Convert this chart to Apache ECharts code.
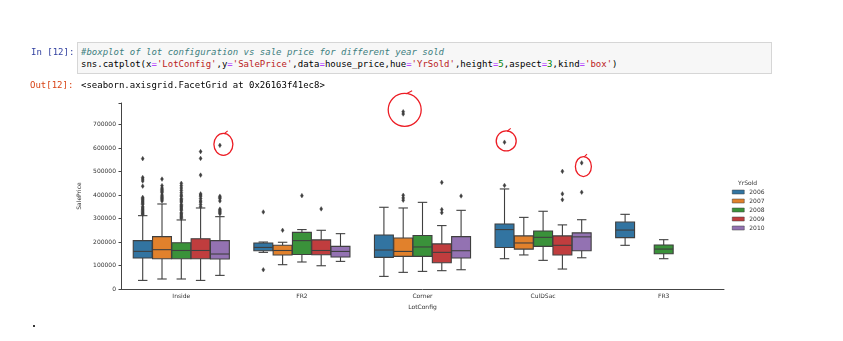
<!DOCTYPE html>
<html><head><meta charset="utf-8">
<script src="https://cdn.jsdelivr.net/npm/echarts@6/dist/echarts.min.js"></script>
<style>
html,body{margin:0;padding:0;background:#fff;width:843px;height:341px;overflow:hidden;}
#chart{position:absolute;left:0;top:0;width:843px;height:341px;}
.nb{position:absolute;font-family:'DejaVu Sans Mono','Liberation Mono',monospace;font-size:9px;line-height:12.3px;white-space:pre;color:#000;}
.cm{color:#408080;font-style:italic}.st{color:#ba2121}.op{color:#aa22ff}.nu{color:#008000}
</style></head><body>
<div id="chart"></div>
<div class="nb" style="left:31px;top:45.5px;color:#303F9F">In [12]:</div>
<div style="position:absolute;left:77px;top:42px;width:693px;height:30px;background:#f7f7f7;border:1px solid #d6d6d6;"></div>
<div class="nb" style="left:81px;top:45.5px;"><span class="cm">#boxplot of lot configuration vs sale price for different year sold</span>
sns.catplot(x<span class="op">=</span><span class="st">'LotConfig'</span>,y<span class="op">=</span><span class="st">'SalePrice'</span>,data<span class="op">=</span>house_price,hue<span class="op">=</span><span class="st">'YrSold'</span>,height<span class="op">=</span><span class="nu">5</span>,aspect<span class="op">=</span><span class="nu">3</span>,kind<span class="op">=</span><span class="st">'box'</span>)</div>
<div class="nb" style="left:30px;top:79px;color:#D84315">Out[12]:</div>
<div class="nb" style="left:81px;top:79px;">&lt;seaborn.axisgrid.FacetGrid at 0x26163f41ec8&gt;</div>
<div class="nb" style="left:31px;top:318px;font-size:10px;font-weight:bold">.</div>
<script>
// ---- data ----
const categories = ['Inside', 'FR2', 'Corner', 'CulDSac', 'FR3'];
const years = ['2006', '2007', '2008', '2009', '2010'];
const yTicks = [0, 100000, 200000, 300000, 400000, 500000, 600000, 700000];
// [whiskerLow, Q1, median, Q3, whiskerHigh] for each category (null = no data)
const box2006 = [[36600,132000,160200,205800,312300],[156000,163000,177000,196000,200000],[53700,134600,166000,230000,348000],[129000,177000,253000,277000,426000],[186000,218600,251000,285000,318000]];
const box2007 = [[42600,129000,167500,222900,362000],[103500,145000,164000,186000,199000],[70900,139000,160000,217000,345000],[145000,170000,196000,226000,305000],null];
const box2008 = [[42600,129000,164000,197000,294000],[115000,147000,206000,241000,253000],[75000,139000,179000,228000,369000],[122000,181500,220000,247000,331000],[129000,150000,170000,187500,210000]];
const box2009 = [[36600,129000,164000,214000,345000],[99000,146000,164000,209000,250000],[78000,112000,156000,192000,270000],[85000,145000,186000,226000,273000],null];
const box2010 = [[58000,128000,149000,205800,308000],[117600,136000,160000,181500,235600],[82000,132000,163000,223000,335000],[133000,163000,222000,239000,295000],null];
// outliers for each category
const out2006 = [[555000,475000,468000,460000,438000,390000,385000,380000,375000,370000,365000,360000,350000,345000,340000,335000,330000,325000,320000,318000],[328000,82000],[],[625000,441000],[]];
const out2007 = [[468000,440000,430000,425000,420000,415000,410000,400000,395000,390000,385000,380000,375000],[250000],[755000,745000,399000,388000,378000],[],[]];
const out2008 = [[450000,440000,430000,420000,410000,400000,395000,385000,380000,375000,370000,360000,355000,350000,345000,340000,335000,325000,320000,315000,310000,305000,300000],[397500],[],[],[]];
const out2009 = [[585000,556000,485000,405000,400000,395000,385000,375000,370000,360000,350000],[341000],[454000,338000,325000],[501000,405000,380000],[]];
const out2010 = [[611657,395000,390000,385000,375000,340000,335000,330000,325000,320000],[],[396000],[537000,412000],[]];
// highlighted (circled) outliers: [categoryIndex, yearIndex, value]
const circled = [[0,4,611657],[2,1,750000],[3,0,625000],[3,4,537000]];

// ---- styling ----
const boxes = [box2006, box2007, box2008, box2009, box2010];
const outs = [out2006, out2007, out2008, out2009, out2010];
const colors = ['#3274a1','#e1812c','#3a923a','#c03d3e','#9372b2'];
const gray = '#3f3f3f';
const HUE_OFF = [-0.32,-0.16,0,0.16,0.32];
const FONT = 'DejaVu Sans';

const chart = echarts.init(document.getElementById('chart'));

function boxRenderer(h){
  return function(params, api){
    const cat = api.value(0);
    const band = api.size([1,0])[0];
    const cx = api.coord([cat, 0])[0] + HUE_OFF[h]*band;
    const half = band*0.16*0.98/2;
    const capHalf = half/2;
    const yLo = api.coord([cat, api.value(1)])[1];
    const yQ1 = api.coord([cat, api.value(2)])[1];
    const yMed = api.coord([cat, api.value(3)])[1];
    const yQ3 = api.coord([cat, api.value(4)])[1];
    const yHi = api.coord([cat, api.value(5)])[1];
    const ls = {stroke: gray, lineWidth: 1.1};
    return {type:'group', children:[
      {type:'line', shape:{x1:cx,y1:yQ1,x2:cx,y2:yLo}, style:ls},
      {type:'line', shape:{x1:cx,y1:yQ3,x2:cx,y2:yHi}, style:ls},
      {type:'line', shape:{x1:cx-capHalf,y1:yLo,x2:cx+capHalf,y2:yLo}, style:ls},
      {type:'line', shape:{x1:cx-capHalf,y1:yHi,x2:cx+capHalf,y2:yHi}, style:ls},
      {type:'rect', shape:{x:cx-half,y:yQ3,width:2*half,height:yQ1-yQ3}, style:{fill:colors[h], stroke:gray, lineWidth:1.1}},
      {type:'line', shape:{x1:cx-half,y1:yMed,x2:cx+half,y2:yMed}, style:ls}
    ]};
  };
}
function outRenderer(h){
  return function(params, api){
    const cat = api.value(0);
    const band = api.size([1,0])[0];
    const p = api.coord([cat, api.value(1)]);
    const cx = p[0] + HUE_OFF[h]*band, cy = p[1];
    const a = 2.3, b = 1.5;
    return {type:'polygon', shape:{points:[[cx,cy-a],[cx+b,cy],[cx,cy+a],[cx-b,cy]]}, style:{fill:gray, stroke:gray, lineWidth:0.4}};
  };
}

const series = [];
years.forEach((y, h) => {
  const data = [];
  boxes[h].forEach((s, c) => { if (s) data.push([c].concat(s)); });
  series.push({
    name: y, type: 'custom', renderItem: boxRenderer(h),
    itemStyle: {color: colors[h], borderColor: gray, borderWidth: 0.6},
    encode: {x: 0, y: [1,2,3,4,5]}, data: data, z: 2, silent: true
  });
});
years.forEach((y, h) => {
  const data = [];
  outs[h].forEach((arr, c) => arr.forEach(v => data.push([c, v])));
  series.push({
    name: y + ' outliers', type: 'custom', renderItem: outRenderer(h),
    itemStyle: {color: gray}, encode: {x: 0, y: 1}, data: data, z: 3, silent: true
  });
});

const option = {
  animation: false,
  backgroundColor: 'transparent',
  grid: {left: 121, top: 103, width: 603, height: 186, containLabel: false},
  xAxis: {
    type: 'category', data: categories, boundaryGap: true,
    axisLine: {lineStyle: {color: '#444', width: 1}},
    axisTick: {alignWithLabel: true, length: 2.5, lineStyle: {color: '#444'}},
    axisLabel: {fontFamily: FONT, fontSize: 6, color: '#333', margin: 4.5},
    name: 'LotConfig', nameLocation: 'middle', nameGap: 13,
    nameTextStyle: {fontFamily: FONT, fontSize: 6, color: '#333'},
    splitLine: {show: false}
  },
  yAxis: {
    type: 'value', min: 0, max: 792000, interval: 100000,
    axisLine: {show: true, lineStyle: {color: '#444', width: 1}},
    axisTick: {show: true, length: 2.5, lineStyle: {color: '#444'}},
    axisLabel: {fontFamily: FONT, fontSize: 6, color: '#333', margin: 5,
      formatter: v => yTicks.indexOf(v) >= 0 ? String(v) : ''},
    splitLine: {show: false},
    name: 'SalePrice', nameLocation: 'middle', nameGap: 30, nameRotate: 90,
    nameTextStyle: {fontFamily: FONT, fontSize: 6, color: '#333'}
  },
  legend: {
    data: years, orient: 'vertical', left: 732, top: 189,
    itemWidth: 12, itemHeight: 4, itemGap: 3, icon: 'rect',
    itemStyle: {borderColor: gray, borderWidth: 0.5},
    textStyle: {fontFamily: FONT, fontSize: 6, lineHeight: 6, color: '#333'},
    padding: 0, selectedMode: false
  },
  graphic: [
    {type: 'text', left: 738, top: 180, style: {text: 'YrSold', fontFamily: FONT, fontSize: 6, fill: '#333'}}
  ],
  series: series
};
chart.setOption(option);

// hand-drawn red circles around notable outliers
const ringStyle = [
  {dx: 3.5, dy: -1, rx: 9.5, ry: 11},
  {dx: 1.5, dy: -3, rx: 16.5, ry: 16.5},
  {dx: 1.7, dy: -1.3, rx: 10, ry: 10},
  {dx: 1.7, dy: 3.7, rx: 8, ry: 10}
];
const p0 = chart.convertToPixel({xAxisIndex: 0, yAxisIndex: 0}, [0, 0]);
const p1 = chart.convertToPixel({xAxisIndex: 0, yAxisIndex: 0}, [1, 0]);
const band = p1[0] - p0[0];
const rings = [];
circled.forEach((c, i) => {
  const p = chart.convertToPixel({xAxisIndex: 0, yAxisIndex: 0}, [c[0], c[2]]);
  const s = ringStyle[i];
  const cx = p[0] + HUE_OFF[c[1]]*band + s.dx, cy = p[1] + s.dy;
  rings.push({type: 'ellipse', shape: {cx: cx, cy: cy, rx: s.rx, ry: s.ry}, style: {fill: 'none', stroke: '#ec1c24', lineWidth: 1.3}, z: 10, silent: true});
  rings.push({type: 'polyline', shape: {points: [[cx + s.rx*0.1, cy - s.ry + 0.3], [cx + s.rx*0.45, cy - s.ry - 2.5]]}, style: {fill: 'none', stroke: '#ec1c24', lineWidth: 1.1}, z: 10, silent: true});
});
chart.setOption({graphic: option.graphic.concat(rings)});
</script>
</body></html>
